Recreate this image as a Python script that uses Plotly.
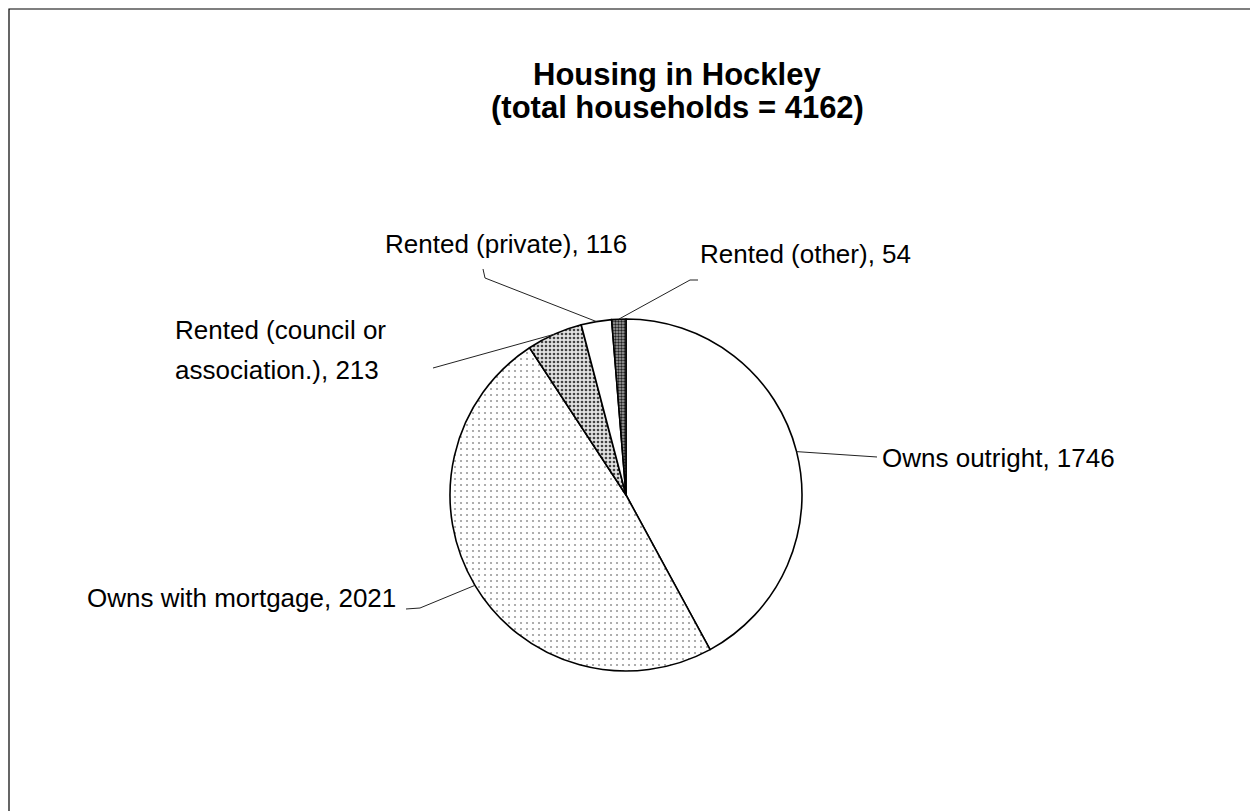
import math

import plotly.graph_objects as go

# page body has an 8px margin, so the figure is sized to fit inside the window
OFF = 8
W, H = 1258 - OFF, 811 - OFF

categories = ["Owns outright", "Owns with mortgage", "Rented (council or association.)",
              "Rented (private)", "Rented (other)"]
households = [1746, 2021, 213, 116, 54]
title_lines = ["Housing in Hockley", "(total households = 4162)"]

# pie placement in window pixels
cx, cy, r = 626, 495, 176

# label text, anchor (px), and leader line start/elbow (px)
labels = [
    dict(lines=["Owns outright, 1746"], x=880, y=[458], xanchor="left",
         start=(877, 457), elbow=None),
    dict(lines=["Owns with mortgage, 2021"], x=398, y=[598], xanchor="right",
         start=(406, 609), elbow=(420, 608)),
    dict(lines=["Rented (council or", "association.), 213"], x=173, y=[330, 370],
         xanchor="left", start=(433, 368), elbow=None),
    dict(lines=["Rented (private), 116"], x=383, y=[244], xanchor="left",
         start=(483, 269), elbow=(485, 278)),
    dict(lines=["Rented (other), 54"], x=698, y=[254], xanchor="left",
         start=(698, 280), elbow=(690, 280)),
]


def px(x):
    return (x - OFF) / W


def py(y):
    return 1 - (y - OFF) / H


fig = go.Figure(go.Pie(
    labels=categories,
    values=households,
    sort=False,
    direction="clockwise",
    rotation=0,
    textinfo="none",
    hoverinfo="label+value",
    marker=dict(
        colors=["white", "white", "#e2e2e2", "white", "#a8a8a8"],
        line=dict(color="black", width=1.6),
        pattern=dict(
            shape=["", ".", ".", "", "."],
            fgcolor=["black", "#9a9a9a", "#444444", "black", "#222222"],
            bgcolor=["white", "white", "#e2e2e2", "white", "#a8a8a8"],
            size=[8, 6, 4, 8, 3],
            solidity=[0.1, 0.1, 0.35, 0.1, 0.5],
            fillmode="replace",
        ),
    ),
    domain=dict(x=[px(cx - r), px(cx + r)], y=[py(cy + r), py(cy - r)]),
    showlegend=False,
))

shapes = [dict(type="rect", xref="paper", yref="paper",
               x0=px(9), x1=px(1251), y0=-0.02, y1=py(9),
               line=dict(color="black", width=1.2))]
annotations = []

total = sum(households)
cum = 0
for value, lab in zip(households, labels):
    mid = (cum + value / 2) / total * 2 * math.pi
    cum += value
    tip = (cx + r * math.sin(mid), cy - r * math.cos(mid))
    pts = [lab["start"]] + ([lab["elbow"]] if lab["elbow"] else []) + [tip]
    path = "M " + " L ".join(f"{px(a):.5f},{py(b):.5f}" for a, b in pts)
    shapes.append(dict(type="path", xref="paper", yref="paper", path=path,
                       line=dict(color="#222222", width=1)))
    for text, ty in zip(lab["lines"], lab["y"]):
        annotations.append(dict(
            text=text, x=px(lab["x"]), y=py(ty), xref="paper", yref="paper",
            xanchor=lab["xanchor"], yanchor="middle", showarrow=False,
            font=dict(size=26, color="black"),
        ))

for text, ty in zip(title_lines, [74, 107]):
    annotations.append(dict(
        text=f"<b>{text}</b>", x=px(677), y=py(ty), xref="paper", yref="paper",
        xanchor="center", yanchor="middle", showarrow=False,
        font=dict(size=31, color="black"),
    ))

fig.update_layout(
    width=W,
    height=H,
    margin=dict(l=0, r=0, t=0, b=0),
    paper_bgcolor="white",
    plot_bgcolor="white",
    font=dict(family="Liberation Sans, Arial, sans-serif", color="black"),
    shapes=shapes,
    annotations=annotations,
)

fig.write_html("out.html")
